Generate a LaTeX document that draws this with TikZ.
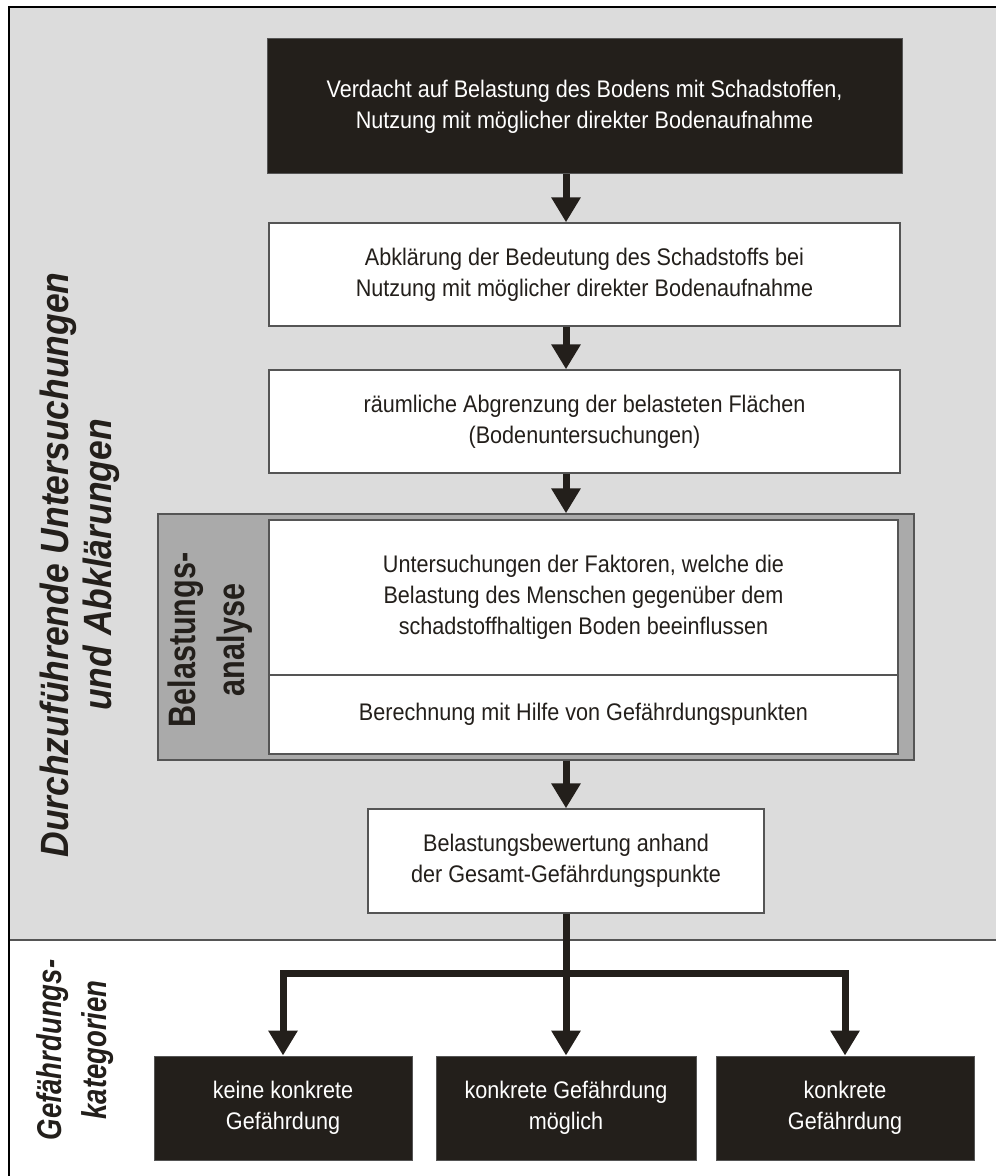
\documentclass[tikz,border=0pt]{standalone}
\usepackage{fontspec}
\setmainfont{Liberation Sans}[FakeStretch=0.9]
\newfontfamily\sidefont{Liberation Sans}[FakeStretch=0.8]
\usetikzlibrary{arrows.meta}
\definecolor{bg}{HTML}{DCDCDC}
\definecolor{panel}{HTML}{AAAAAA}
\definecolor{ink}{HTML}{231F1B}
\definecolor{rim}{HTML}{555555}

\begin{document}
\begin{tikzpicture}[x=0.5pt,y=-0.5pt,
    darkbox/.style={fill=ink,draw=rim,line width=0.5pt,text=white,align=center,inner sep=0pt,
      font=\fontsize{12}{15.5}\selectfont},
    lightbox/.style={fill=white,draw=rim,line width=0.7pt,text=ink,align=center,inner sep=0pt,
      font=\fontsize{12}{15.5}\selectfont},
    panelbox/.style={fill=panel,draw=rim,line width=0.7pt,inner sep=0pt},
    flow/.style={draw=ink,line width=3.5pt,-{Triangle[width=14pt,length=12.5pt]}},
    sidelabel/.style={rotate=90,align=center,text=ink,inner sep=0pt}]
    \useasboundingbox (0,0) rectangle (996,1176);
    \fill[bg] (9,7) rectangle (996,940);
    \draw[rim,line width=0.7pt] (9,940) -- (996,940);
    \draw[black,line width=1pt] (9,1176) -- (9,7) -- (996,7);

    \node[sidelabel,font=\bfseries\itshape\fontsize{19.7}{21.5}\selectfont] (untlabel) at (80,565)
        {Durchzuführende Untersuchungen\\und Abklärungen};
    \node[sidelabel,font=\sidefont\bfseries\itshape\fontsize{17.2}{22.5}\selectfont] (katlabel) at (75,1050)
        {Gefährdungs-\\kategorien};

    \node[darkbox,minimum width=317.5pt,minimum height=67.5pt] (verdacht) at (584.5,106.5)
        {Verdacht auf Belastung des Bodens mit Schadstoffen,\\Nutzung mit möglicher direkter Bodenaufnahme};
    \node[lightbox,minimum width=315.5pt,minimum height=51.5pt] (abkl) at (584.5,274.5)
        {Abklärung der Bedeutung des Schadstoffs bei\\Nutzung mit möglicher direkter Bodenaufnahme};
    \node[lightbox,minimum width=315.5pt,minimum height=51.5pt] (raum) at (584.5,421.5)
        {räumliche Abgrenzung der belasteten Flächen\\(Bodenuntersuchungen)};

    \node[panelbox,minimum width=378pt,minimum height=123pt] (bel) at (536,637) {};
    \node[sidelabel,font=\sidefont\bfseries\fontsize{19.1}{24.5}\selectfont] (bellabel) at (210,640)
        {Belastungs-\\analyse};
    \node[lightbox,minimum width=314.5pt,minimum height=77.5pt] (faktoren) at (583.5,597.5)
        {Untersuchungen der Faktoren, welche die\\Belastung des Menschen gegenüber dem\\schadstoffhaltigen Boden beeinflussen};
    \node[lightbox,minimum width=314.5pt,minimum height=39.5pt] (punkte) at (583.5,714.5)
        {Berechnung mit Hilfe von Gefährdungspunkten};

    \node[lightbox,minimum width=198pt,minimum height=52pt] (bewert) at (566,861)
        {Belastungsbewertung anhand\\der Gesamt-Gefährdungspunkte};

    \node[darkbox,minimum width=129pt,minimum height=52pt] (keine) at (283,1108)
        {keine konkrete\\Gefährdung};
    \node[darkbox,minimum width=130pt,minimum height=52pt] (moeglich) at (566,1108)
        {konkrete Gefährdung\\möglich};
    \node[darkbox,minimum width=129pt,minimum height=52pt] (konkret) at (845,1108)
        {konkrete\\Gefährdung};

    \draw[flow] (verdacht.south -| bewert) -- (abkl.north -| bewert);
    \draw[flow] (abkl.south -| bewert) -- (raum.north -| bewert);
    \draw[flow] (raum.south -| bewert) -- (bel.north -| bewert);
    \draw[flow] (bel.south -| bewert) -- (bewert.north);

    \coordinate (split) at (566,973);
    \draw[draw=ink,line width=3.5pt] (bewert.south) -- (split);
    \draw[flow] (split) -| (keine.north);
    \draw[flow] (split) -| (konkret.north);
    \draw[flow] (split) -- (moeglich.north);
\end{tikzpicture}
\end{document}
